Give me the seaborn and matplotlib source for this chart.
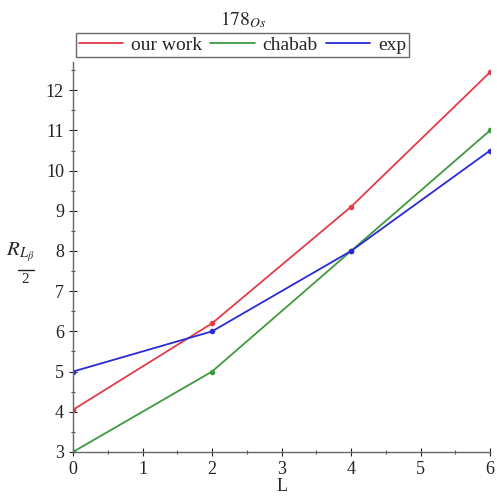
import matplotlib
matplotlib.use("Agg")
import matplotlib.pyplot as plt
import seaborn as sns
import pandas as pd
from matplotlib.ticker import MultipleLocator
from matplotlib.lines import Line2D

L = [0, 2, 4, 6]
our_work = [4.05, 6.2, 9.1, 12.45]
chabab = [3.0, 5.0, 8.0, 11.0]
exp = [5.0, 6.0, 8.0, 10.5]
series_names = ["our work", "chabab", "exp"]
colors = ["#e23c4a", "#3f9a3f", "#2a2ad6"]

df = pd.DataFrame({
    "L": L * 3,
    "R": our_work + chabab + exp,
    "series": sum([[n] * len(L) for n in series_names], []),
})

sns.set_style("white")
plt.rcParams["font.family"] = ["Liberation Serif", "DejaVu Serif"]
plt.rcParams["mathtext.fontset"] = "stix"

fig = plt.figure(figsize=(4.97, 5.01), dpi=100)
ax = fig.add_axes([0.147, 0.098, 0.839, 0.778])
sns.lineplot(data=df, x="L", y="R", hue="series", palette=colors,
             marker="o", markersize=4, markeredgewidth=0, linewidth=1.3,
             ax=ax, legend=True)

ax.set_xlim(0, 6)
ax.set_ylim(3, 12.7)
ax.xaxis.set_major_locator(MultipleLocator(1))
ax.xaxis.set_minor_locator(MultipleLocator(0.5))
ax.yaxis.set_major_locator(MultipleLocator(1))
ax.yaxis.set_minor_locator(MultipleLocator(0.5))
ax.tick_params(axis="x", which="both", bottom=True)
ax.tick_params(axis="y", which="both", left=True)
ax.tick_params(which="major", direction="inout", length=6, width=0.8, labelsize=13, colors="#222222")
ax.tick_params(which="minor", direction="inout", length=3, width=0.8, colors="#555555")
for s in ["top", "right"]:
    ax.spines[s].set_visible(False)
for s in ["left", "bottom"]:
    ax.spines[s].set_color("#666666")
    ax.spines[s].set_linewidth(1.0)

ax.set_xlabel("L", fontsize=13, labelpad=0)
ax.set_ylabel("")
# y label: R_{L_beta} over 2
fig.text(0.012, 0.52, r"$R_{L_{\beta}}$", ha="left", va="top", fontsize=15)
fig.add_artist(Line2D([0.036, 0.068], [0.461, 0.461], transform=fig.transFigure,
                      color="#222222", linewidth=1.0))
fig.text(0.05, 0.443, "2", ha="center", va="center", fontsize=11)

fig.text(0.49, 0.96, r"$178_{Os}$", ha="center", va="center", fontsize=14)

handles, labels = ax.get_legend_handles_labels()
for h in handles:
    h.set_marker("")
leg = ax.legend(handles, labels, loc="center", bbox_to_anchor=(0.488, 0.91),
                bbox_transform=fig.transFigure, ncol=3, frameon=True,
                fontsize=14, handlelength=2.3, columnspacing=0.4,
                handletextpad=0.4, borderpad=0.15, fancybox=False)
leg.get_frame().set_edgecolor("#444444")
leg.get_frame().set_linewidth(1.0)

fig.savefig("out.png", dpi=100)
